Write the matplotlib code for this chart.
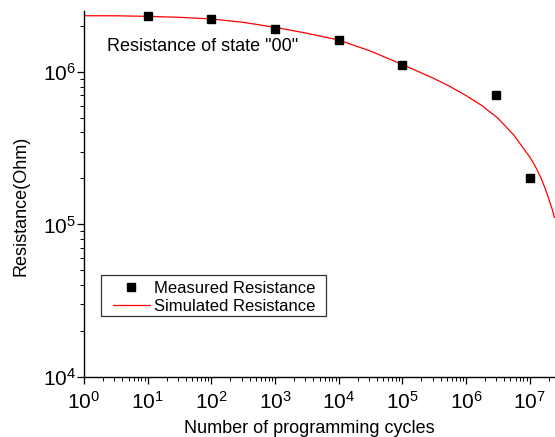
import matplotlib
matplotlib.use("Agg")
import matplotlib.pyplot as plt
from matplotlib.patches import Rectangle
from matplotlib.ticker import LogLocator, LogFormatterMathtext, NullFormatter

plt.rcParams['font.family'] = ['Liberation Sans', 'DejaVu Sans']
plt.rcParams['mathtext.fontset'] = 'custom'
plt.rcParams['mathtext.rm'] = 'Liberation Sans'
plt.rcParams['mathtext.it'] = 'Liberation Sans:italic'
plt.rcParams['mathtext.bf'] = 'Liberation Sans:bold'

# Measured resistance after N programming cycles
cycles_measured = [1e1, 1e2, 1e3, 1e4, 1e5, 3e6, 1e7]
res_measured = [2.32e6, 2.21e6, 1.90e6, 1.61e6, 1.10e6, 7.0e5, 2.0e5]

# Simulated resistance curve
cycles_sim = [1, 3.16, 10, 31.6, 100, 316, 1e3, 3.16e3, 1e4, 3.16e4, 1e5,
              1.78e5, 3.16e5, 5.62e5, 1e6, 1.78e6, 3.16e6, 5.62e6, 1e7,
              1.122e7, 1.259e7, 1.413e7, 1.585e7, 1.778e7, 1.995e7,
              2.239e7, 2.455e7]
res_sim = [2.328e6, 2.325e6, 2.307e6, 2.272e6, 2.218e6, 2.108e6, 1.954e6,
           1.788e6, 1.613e6, 1.366e6, 1.115e6, 1.003e6, 9.02e5, 8.00e5,
           6.98e5, 6.00e5, 4.97e5, 3.85e5, 2.77e5,
           2.56e5, 2.35e5, 2.13e5, 1.91e5, 1.69e5, 1.47e5,
           1.27e5, 1.11e5]

fig = plt.figure(figsize=(5.55, 4.37), dpi=100)
ax = fig.add_axes([84 / 555, 1 - 377 / 437, 471 / 555, 366 / 437])

ax.plot(cycles_measured, res_measured, linestyle='none', marker='s',
        markersize=6, color='black', label='Measured Resistance', zorder=3)
ax.plot(cycles_sim, res_sim, color='red', linewidth=0.9,
        label='Simulated Resistance', zorder=2, solid_joinstyle='round')

ax.set_xscale('log')
ax.set_yscale('log')
ax.set_xlim(1, 2.5e7)
ax.set_ylim(1e4, 2.5e6)

for ax_ in (ax.xaxis, ax.yaxis):
    ax_.set_major_locator(LogLocator(base=10, numticks=20))
    ax_.set_minor_locator(LogLocator(base=10, subs=range(2, 10), numticks=20))
    ax_.set_major_formatter(LogFormatterMathtext())
    ax_.set_minor_formatter(NullFormatter())

ax.spines['top'].set_visible(False)
ax.spines['right'].set_visible(False)
for s in ('left', 'bottom'):
    ax.spines[s].set_linewidth(1.0)

ax.tick_params(which='major', direction='out', length=5, width=0.9,
               labelsize=15, pad=1)
ax.tick_params(which='minor', direction='out', length=3, width=0.7)
ax.tick_params(axis='x', which='major', pad=5)

ax.set_xlabel('Number of programming cycles', fontsize=13)
ax.set_ylabel('Resistance(Ohm)', fontsize=13)
ax.xaxis.set_label_coords(0.479, -0.118)
ax.yaxis.set_label_coords(-0.115, 0.467)

ax.text(0.049, 0.902, 'Resistance of state "00"', transform=ax.transAxes,
        fontsize=13, ha='left', va='center')

# Legend entries without the default frame; a plain box is drawn around them
leg = ax.legend(loc='center left', bbox_to_anchor=(0.0616, 0.218),
                borderaxespad=0, borderpad=0, fontsize=12, frameon=False,
                handlelength=2.2, handletextpad=0.25, labelspacing=0.2,
                numpoints=1)
frame = Rectangle((0.0361, 0.1667), 0.4777, 0.112, transform=ax.transAxes,
                  fill=False, edgecolor='#333333', linewidth=0.9,
                  zorder=4, clip_on=False)
ax.add_patch(frame)

fig.savefig('out.png', dpi=100)
